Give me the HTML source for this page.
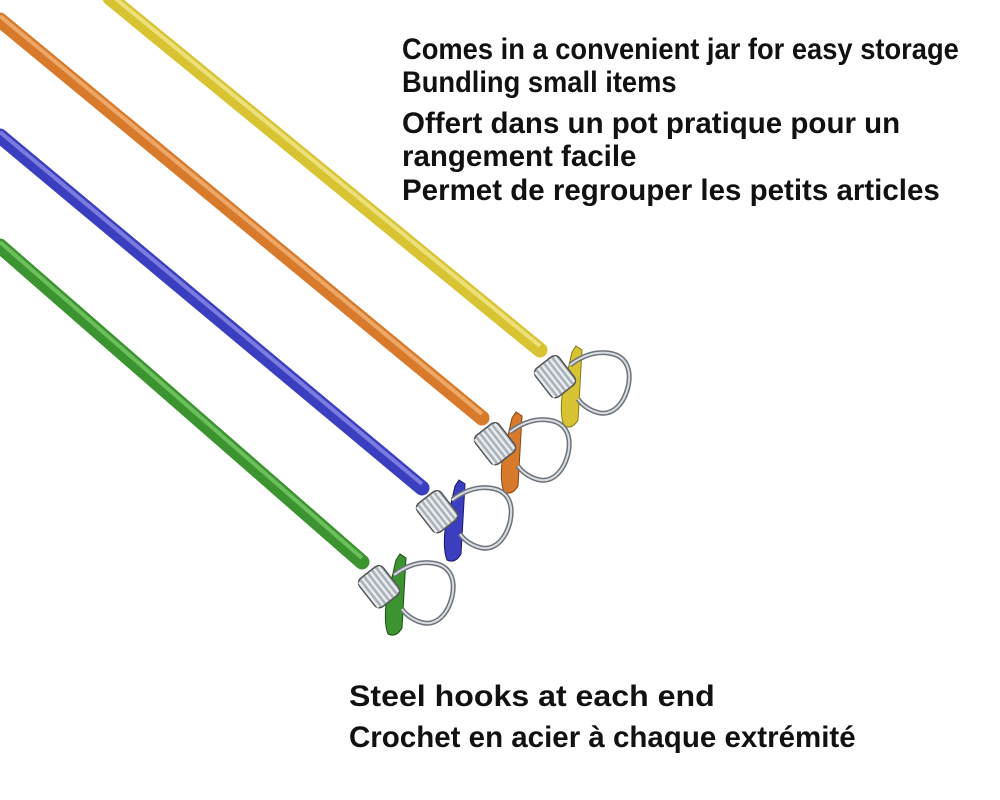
<!DOCTYPE html>
<html><head><meta charset="utf-8"><style>
body{margin:0;width:1000px;height:800px;background:#fff;overflow:hidden;position:relative;font-family:"Liberation Sans",sans-serif}
.t{position:absolute;white-space:nowrap;color:#111;font-weight:bold;transform-origin:0 0}
.c{font-size:30px}
.f{font-size:29.5px}
</style></head><body>
<svg width="1000" height="800" style="position:absolute;left:0;top:0">
<defs>
<g id="hook">
<path d="M0,0 C8,-6 22,-14 38,-12 C56,-10 62,4 58,22 C54,38 44,50 30,48 C20,46 12,40 8,34" fill="none" stroke="#6e737a" stroke-width="5"/>
<path d="M0,0 C8,-6 22,-14 38,-12 C56,-10 62,4 58,22 C54,38 44,50 30,48 C20,46 12,40 8,34" fill="none" stroke="#d8dde2" stroke-width="2"/>
<g transform="rotate(-38)">
<rect x="-34" y="-18" width="30" height="36" rx="6" fill="#a9b0b8" stroke="#555" stroke-width="1.5"/>
<path d="M-32,-16v32M-27,-17v34M-22,-17v34M-17,-17v34M-12,-17v34M-7,-16v32" stroke="#e8ecef" stroke-width="2.5"/>
</g>
</g>
</defs>
<line x1="110" y1="-2" x2="540" y2="350" stroke="#d8c432" stroke-width="15" stroke-linecap="round"/>
<line x1="110" y1="-6" x2="540" y2="346" stroke="#ece07a" stroke-width="4"/>
<path d="M572,352 l4,-6 l6,4 l-4,70 q-6,10 -14,6 q-4,-10 -2,-30z" fill="#d8c432" stroke="#8a7a10" stroke-width="1"/>
<use href="#hook" x="570" y="365"/>
<line x1="0" y1="20" x2="482" y2="418" stroke="#d87a2c" stroke-width="15" stroke-linecap="round"/>
<line x1="0" y1="16" x2="482" y2="414" stroke="#eda766" stroke-width="4"/>
<path d="M512,418 l4,-6 l6,4 l-4,70 q-6,10 -14,6 q-4,-10 -2,-30z" fill="#d87a2c" stroke="#8a4410" stroke-width="1"/>
<use href="#hook" x="510" y="432"/>
<line x1="0" y1="136" x2="422" y2="488" stroke="#3c3ec0" stroke-width="15" stroke-linecap="round"/>
<line x1="0" y1="132" x2="422" y2="484" stroke="#7a7ce0" stroke-width="4"/>
<path d="M455,486 l4,-6 l6,4 l-4,70 q-6,10 -14,6 q-4,-10 -2,-30z" fill="#3c3ec0" stroke="#1a1a70" stroke-width="1"/>
<use href="#hook" x="452" y="500"/>
<line x1="0" y1="246" x2="362" y2="562" stroke="#3c9430" stroke-width="15" stroke-linecap="round"/>
<line x1="0" y1="242" x2="362" y2="558" stroke="#6cc05c" stroke-width="4"/>
<path d="M396,560 l4,-6 l6,4 l-4,70 q-6,10 -14,6 q-4,-10 -2,-30z" fill="#3c9430" stroke="#1a5010" stroke-width="1"/>
<use href="#hook" x="394" y="575"/>
</svg>
<div class="t c" style="left:402px;top:33px;transform:scaleX(0.91)">Comes in a convenient jar for easy storage</div>
<div class="t c" style="left:402px;top:66px;transform:scaleX(0.91)">Bundling small items</div>
<div class="t f" style="left:402px;top:107px">Offert dans un pot pratique pour un</div>
<div class="t f" style="left:402px;top:140px">rangement facile</div>
<div class="t f" style="left:402px;top:174px">Permet de regrouper les petits articles</div>
<div class="t c" style="left:349px;top:680px;transform:scaleX(1.07)">Steel hooks at each end</div>
<div class="t f" style="left:349px;top:721px">Crochet en acier à chaque extrémité</div>
</body></html>
